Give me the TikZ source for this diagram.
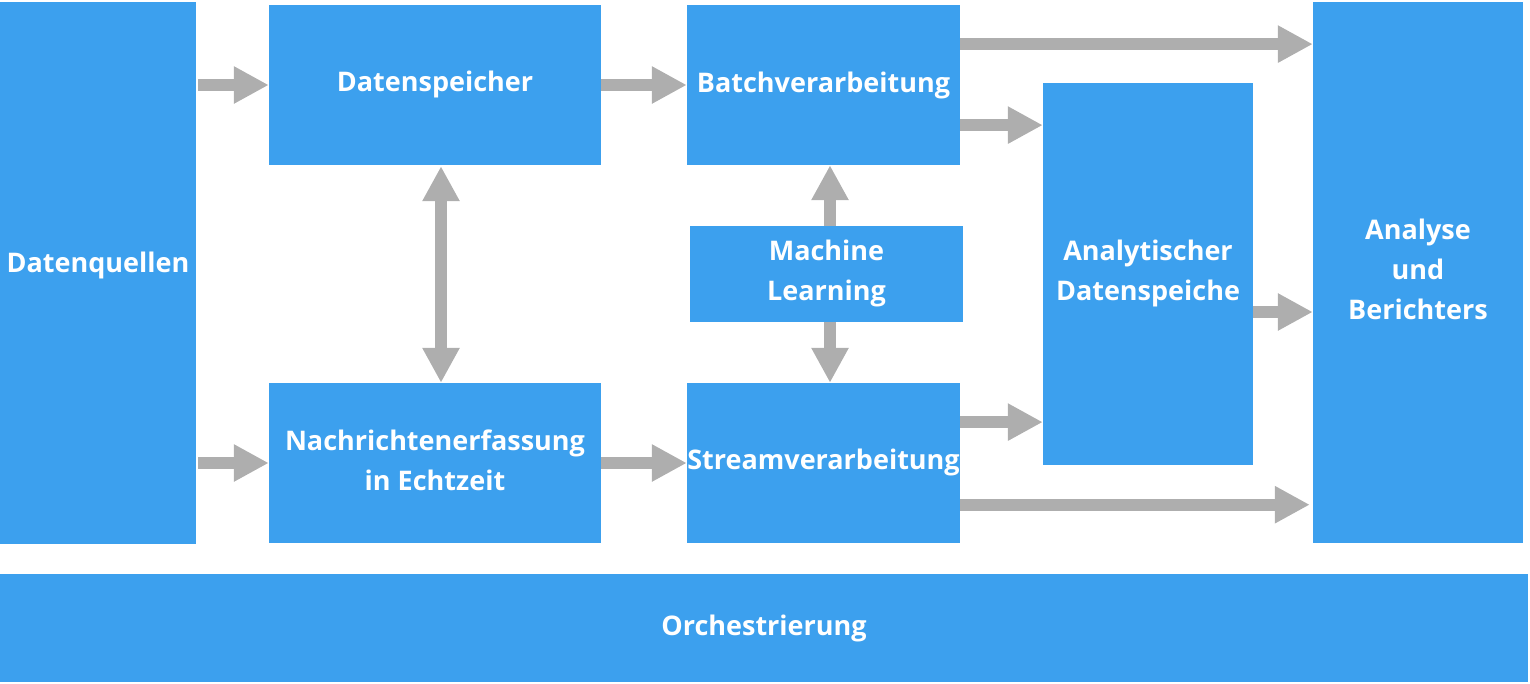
\documentclass[tikz,border=0pt]{standalone}
\usepackage{fontspec}
\setmainfont{Open Sans}
\usetikzlibrary{arrows.meta,calc}
\definecolor{boxblue}{RGB}{60,160,238}
\definecolor{arrgray}{RGB}{174,174,174}
\begin{document}
\begin{tikzpicture}[x=1pt,y=-1pt,
  box/.style={fill=boxblue,draw=none,inner sep=0pt},
  lbl/.style={inner sep=0pt,text=white,align=center,
    font=\fontsize{27}{40}\selectfont\bfseries},
  arr/.style={draw=arrgray,line width=12pt,-{Triangle[length=35pt,width=35pt]}},
  darr/.style={draw=arrgray,line width=12pt,{Triangle[length=35pt,width=35pt]}-{Triangle[length=35pt,width=35pt]}}]
\useasboundingbox (0,0) rectangle (1530,683);
\node[box,minimum width=196pt,minimum height=542pt] (dq) at (98,273) {};
\node[box,minimum width=332pt,minimum height=160pt] (ds) at (435,85) {};
\node[box,minimum width=332pt,minimum height=160pt] (ne) at (435,463) {};
\node[box,minimum width=273pt,minimum height=160pt] (bv) at (823.5,85) {};
\node[box,minimum width=273pt,minimum height=96pt] (ml) at (826.5,274) {};
\node[box,minimum width=273pt,minimum height=160pt] (sv) at (823.5,463) {};
\node[box,minimum width=210pt,minimum height=382pt] (ad) at (1148,274) {};
\node[box,minimum width=210pt,minimum height=541pt] (an) at (1418,272.5) {};
\node[box,minimum width=1528pt,minimum height=108pt] (or) at (764,628) {};
% labels
\node[lbl] (tdq) at ($(dq.center)+(0,-8)$) {Datenquellen};
\node[lbl] (tds) at ($(ds.center)+(0,-1)$) {Datenspeicher};
\node[lbl] (tne) at ($(ne.center)+(0,-3)$) {Nachrichtenerfassung\\in Echtzeit};
\node[lbl] (tbv) at ($(bv.center)+(0,0)$) {Batchverarbeitung};
\node[lbl] (tml) at ($(ml.center)+(0,-1)$) {Machine\\Learning};
\node[lbl] (tsv) at ($(sv.center)+(0,-1)$) {Streamverarbeitung};
\node[lbl] (tad) at ($(ad.center)+(0,-1)$) {Analytischer\\Datenspeiche};
\node[lbl] (tan) at ($(an.center)+(0,-3)$) {Analyse\\und\\Berichters};
\node[lbl] (tor) at ($(or.center)+(0,0)$) {Orchestrierung};
% arrows
\draw[arr,shorten <=2pt] (dq.east |- ds.west) -- (ds.west);
\draw[arr,shorten <=2pt] (dq.east |- ne.west) -- (ne.west);
\draw[arr] (ds.east) -- (bv.west);
\draw[arr] (ne.east) -- (sv.west);
\coordinate (b1) at ($(bv.north east)!0.245!(bv.south east)$);
\coordinate (b2) at ($(bv.north east)!0.75!(bv.south east)$);
\coordinate (s1) at ($(sv.north east)!0.245!(sv.south east)$);
\coordinate (s2) at ($(sv.north east)!0.76!(sv.south east)$);
\draw[arr] (b1) -- (an.west |- b1);
\draw[arr] (b2) -- (ad.west |- b2);
\draw[arr] (s1) -- (ad.west |- s1);
\draw[arr,shorten >=3pt] (s2) -- (an.west |- s2);
\coordinate (a1) at ($(ad.east)+(0,38)$);
\draw[arr] (a1) -- (an.west |- a1);
\coordinate (d1) at ($(ds.south)+(6,1)$);
\draw[darr] (d1) -- (ne.north -| d1);
\coordinate (m1) at ($(ml.north)+(3.5,0)$);
\draw[arr] (m1) -- (bv.south -| m1);
\coordinate (m2) at ($(ml.south)+(3.5,0)$);
\draw[arr] (m2) -- (sv.north -| m2);
\end{tikzpicture}
\end{document}
